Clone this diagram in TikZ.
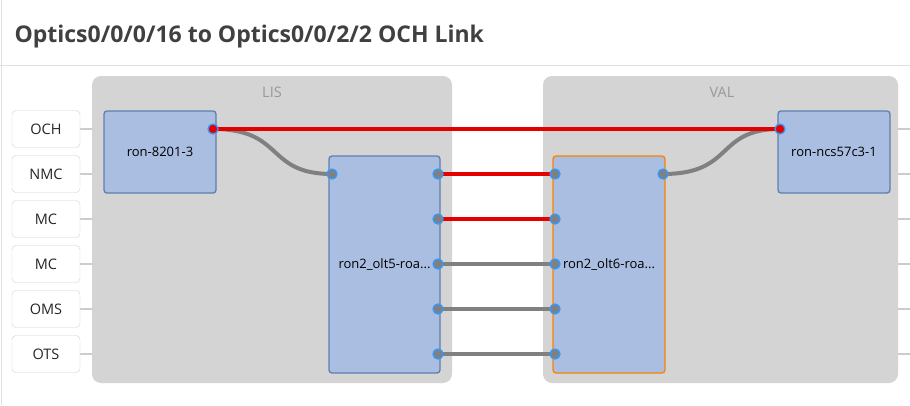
\documentclass[tikz,border=0pt]{standalone}
\usepackage{fontspec}
\setmainfont{Open Sans}
\definecolor{devb}{RGB}{96,126,176}
\definecolor{devf}{RGB}{169,190,225}
\definecolor{portb}{RGB}{51,153,255}
\begin{document}
\begin{tikzpicture}[x=1pt,y=-1pt,
 lab/.style={draw=black!18,fill=white,rounded corners=4pt,minimum width=68pt,minimum height=37pt,font=\fontsize{14.5}{16}\selectfont,text=black!85,inner sep=0},
 grp/.style={fill=black!17,rounded corners=9pt},
 dev/.style={draw=devb,fill=devf,line width=1.3pt,rounded corners=3pt,font=\fontsize{13}{15}\selectfont,inner sep=0},
 port/.style={circle,draw=portb,fill=gray,line width=1.3pt,minimum size=10pt,inner sep=0},
 rport/.style={port,fill=red!90!black},
 tick/.style={draw=black!20,line width=2pt},
 rl/.style={draw=red!90!black,line width=4pt},
 gl/.style={draw=gray,line width=4pt}]
\useasboundingbox (0,0) rectangle (910,405);
\fill[white] (0,0) rectangle (910,405);
\draw[black!12] (1,0) -- (1,405);
\draw[black!12] (0,65) -- (910,65);
\node[anchor=west,font=\fontsize{23}{27}\selectfont\bfseries,text=black!75] (title) at (11,37) {Optics0/0/0/16 to Optics0/0/2/2 OCH Link};
\foreach \n/\t/\y in {a/OCH/129,b/NMC/174,c/MC/219,d/MC/264,e/OMS/309,f/OTS/354}{
 \draw[tick] (80,\y) -- (92,\y);
 \draw[tick] (898,\y) -- (910,\y);
 \node[lab] (\n) at (46,\y) {\t};}
\fill[grp] (92,76) rectangle (452,383);
\fill[grp] (543,76) rectangle (898,383);
\node[text=black!40,font=\fontsize{14.5}{16}\selectfont] (lis) at (272,92) {LIS};
\node[text=black!40,font=\fontsize{14.5}{16}\selectfont] (val) at (722,92) {VAL};
\node[dev,minimum width=112pt,minimum height=82pt] (r1) at (160,152) {ron-8201-3};
\node[dev,minimum width=111pt,minimum height=217pt] (o5) at (384.5,264.5) {ron2\_olt5-roa...};
\node[dev,draw=orange,minimum width=112pt,minimum height=217pt] (o6) at (609,264.5) {ron2\_olt6-roa...};
\node[dev,minimum width=112pt,minimum height=82pt] (r2) at (834,152) {ron-ncs57c3-1};
\coordinate (o5l) at (332,174);
\coordinate (o6r) at (663,174);
\coordinate (r1p) at (213,129);
\coordinate (r2p) at (780,129);
\foreach \i/\y in {1/174,2/219,3/264,4/309,5/354}{
 \coordinate (p\i) at (438,\y);
 \coordinate (q\i) at (555,\y);}
\draw[gl] (r1p) .. controls (285,129) and (265,174) .. (o5l);
\draw[gl] (o6r) .. controls (735,174) and (715,129) .. (r2p);
\draw[rl] (p1) -- (q1);
\draw[rl] (p2) -- (q2);
\draw[gl] (p3) -- (q3);
\draw[gl] (p4) -- (q4);
\draw[gl] (p5) -- (q5);
\draw[rl] (r1p) -- (r2p);
\foreach \n in {o5l,o6r,p1,p2,p3,p4,p5,q1,q2,q3,q4,q5}{\node[port] (\n-dot) at (\n) {};}
\node[rport] (r1p-dot) at (r1p) {};
\node[rport] (r2p-dot) at (r2p) {};
\end{tikzpicture}
\end{document}
